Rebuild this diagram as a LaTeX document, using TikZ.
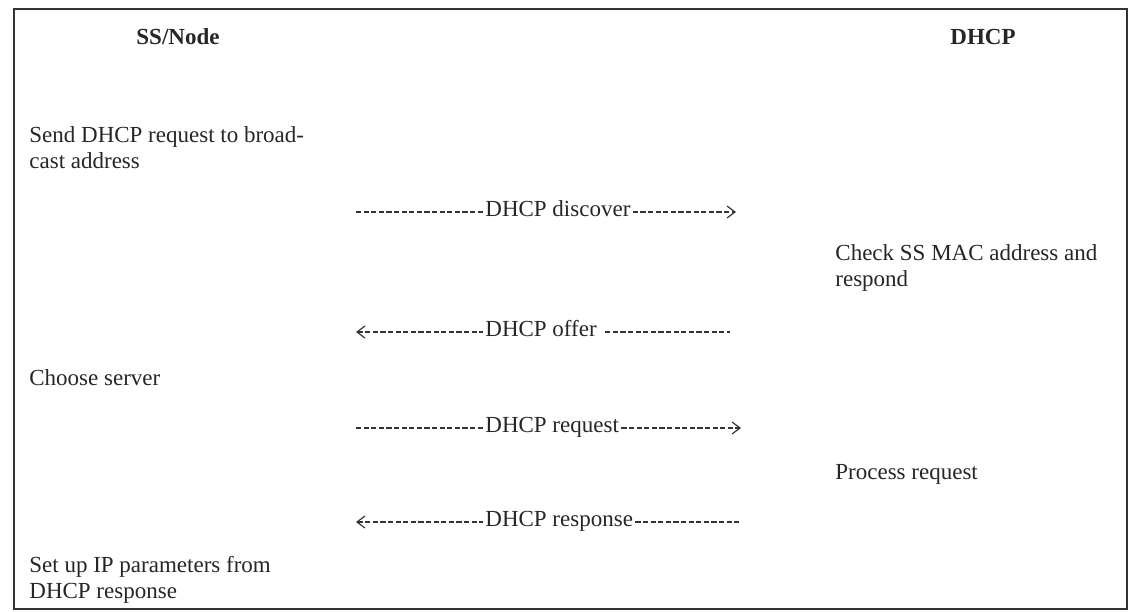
\documentclass[tikz,border=0pt]{standalone}
\usepackage{fontspec}
\setmainfont{Liberation Serif}
\usetikzlibrary{arrows.meta}

\tikzset{
  actor/.style={font=\fontsize{11.5}{12.8}\selectfont\bfseries, anchor=base, inner sep=0pt},
  task/.style={anchor=base west, align=left, inner sep=0pt},
  msglabel/.style={anchor=base west, inner xsep=1pt, inner ysep=0pt},
  msg/.style={line width=0.6pt, black!80, dash pattern=on 2.6pt off 1.2pt},
}

\begin{document}
\begin{tikzpicture}[x=0.5pt,y=-0.5pt,>={Straight Barb[length=4pt,width=6pt]},
    font=\fontsize{11.5}{12.8}\selectfont, text=black!85]
\useasboundingbox (0,0) rectangle (1128,611);
\draw[line width=1.2pt, black!80] (14,9) rectangle (1127,609);

% the two sides
\node[actor] (ss) at (178,44) {SS/Node};
\node[actor] (dhcp) at (983,44) {DHCP};

% what each side does (base = last line)
\node[task] (send) at (29,168) {Send DHCP request to broad-\\cast address};
\node[task] (check) at (835,286) {Check SS MAC address and\\respond};
\node[task] (choose) at (29,385) {Choose server};
\node[task] (process) at (835,479) {Process request};
\node[task] (setup) at (29,598) {Set up IP parameters from\\DHCP response};

% messages
\coordinate (disc-a) at (356,212);  \coordinate (disc-b) at (736,212);
\coordinate (offer-a) at (356,332); \coordinate (offer-b) at (730,332);
\coordinate (req-a) at (356,428);   \coordinate (req-b) at (741,428);
\coordinate (resp-a) at (356,522);  \coordinate (resp-b) at (740,522);

\node[msglabel] (disc) at (483,216) {DHCP discover};
\node[msglabel] (offer) at (483,336) {DHCP offer};
\node[msglabel] (req) at (483,432) {DHCP request};
\node[msglabel] (resp) at (483,526) {DHCP response};

\draw[msg] (disc-a) -- (disc-a -| disc.west);
\draw[msg,->] (disc-b -| disc.east) -- (disc-b);
\draw[msg,<-] (offer-a) -- (offer-a -| offer.west);
\draw[msg] ([xshift=3pt]offer-b -| offer.east) -- (offer-b);
\draw[msg] (req-a) -- (req-a -| req.west);
\draw[msg,->] (req-b -| req.east) -- (req-b);
\draw[msg,<-] (resp-a) -- (resp-a -| resp.west);
\draw[msg] (resp-b -| resp.east) -- (resp-b);
\end{tikzpicture}
\end{document}
